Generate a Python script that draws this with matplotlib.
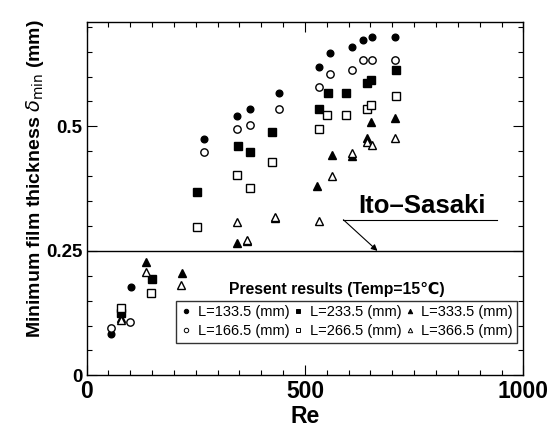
import matplotlib
matplotlib.use("Agg")
import matplotlib.pyplot as plt
from matplotlib.lines import Line2D
from matplotlib.ticker import MultipleLocator

plt.rcParams['font.family'] = ['Liberation Sans', 'DejaVu Sans']
plt.rcParams['mathtext.fontset'] = 'dejavusans'

# Re and minimum film thickness (mm) for each tube length
re_133 = [55, 101, 268, 344, 374, 441, 531, 558, 607, 633, 654, 706]
d_133 = [0.083, 0.177, 0.475, 0.520, 0.534, 0.567, 0.620, 0.647, 0.659, 0.673, 0.679, 0.679]

re_166 = [55, 100, 268, 344, 374, 441, 531, 558, 607, 633, 654, 706]
d_166 = [0.096, 0.108, 0.448, 0.495, 0.502, 0.534, 0.580, 0.606, 0.614, 0.633, 0.633, 0.633]

re_233 = [79, 150, 253, 346, 374, 424, 532, 553, 595, 641, 652, 708]
d_233 = [0.126, 0.194, 0.369, 0.461, 0.448, 0.488, 0.534, 0.567, 0.567, 0.587, 0.594, 0.614]

re_266 = [79, 147, 253, 345, 374, 424, 532, 551, 594, 641, 651, 708]
d_266 = [0.136, 0.166, 0.297, 0.403, 0.376, 0.429, 0.495, 0.522, 0.522, 0.535, 0.542, 0.561]

re_333 = [79, 135, 218, 345, 367, 431, 528, 563, 608, 641, 651, 705]
d_333 = [0.115, 0.227, 0.205, 0.266, 0.269, 0.316, 0.380, 0.443, 0.440, 0.477, 0.508, 0.516]

re_366 = [79, 135, 216, 344, 367, 431, 531, 563, 608, 643, 653, 705]
d_366 = [0.111, 0.207, 0.181, 0.309, 0.272, 0.319, 0.311, 0.400, 0.447, 0.469, 0.462, 0.476]

ito_sasaki = 0.25

series = [
    (re_133, d_133, 'o', 'k', 4.8, 'L=133.5 (mm)'),
    (re_166, d_166, 'o', 'w', 5.3, 'L=166.5 (mm)'),
    (re_233, d_233, 's', 'k', 5.3, 'L=233.5 (mm)'),
    (re_266, d_266, 's', 'w', 5.3, 'L=266.5 (mm)'),
    (re_333, d_333, '^', 'k', 5.5, 'L=333.5 (mm)'),
    (re_366, d_366, '^', 'w', 6.0, 'L=366.5 (mm)'),
]

fig = plt.figure(figsize=(5.55, 4.36), dpi=100)
ax = fig.add_axes([0.156, 0.139, 0.787, 0.811])

handles = []
for x, y, m, fc, ms, lab in series:
    ax.plot(x, y, linestyle='none', marker=m, markersize=ms,
            markerfacecolor=fc, markeredgecolor='k', markeredgewidth=1.0)
    handles.append(Line2D([], [], linestyle='none', marker=m, markersize=3.2,
                          markerfacecolor=fc, markeredgecolor='k',
                          markeredgewidth=0.7, label=lab))

ax.axhline(ito_sasaki, color='k', linewidth=1.0)

# Ito-Sasaki annotation with underline and pointer
ax.text(621, 0.327, 'Ito\u2013Sasaki', fontsize=18.5, fontweight='bold', ha='left', va='baseline')
ax.plot([588, 939], [0.3125, 0.3125], color='k', linewidth=0.8)
ax.annotate('', xy=(666, ito_sasaki), xytext=(588, 0.3125),
            arrowprops=dict(arrowstyle='-|>', color='k', lw=0.8,
                            mutation_scale=9, shrinkA=0, shrinkB=0))

ax.set_xlim(0, 1000)
ax.set_ylim(0, 0.71)
ax.set_xticks([0, 500, 1000])
ax.set_yticks([0, 0.25, 0.5])
ax.set_xticklabels(['0', '500', '1000'])
ax.set_yticklabels(['0', '0.25', '0.5'])
ax.xaxis.set_minor_locator(MultipleLocator(50))
ax.yaxis.set_minor_locator(MultipleLocator(0.05))
ax.tick_params(which='both', direction='in', top=True, right=True, width=0.8)
ax.tick_params(which='major', length=7)
ax.tick_params(which='minor', length=3.5)
ax.tick_params(axis='x', which='major', labelsize=16.5, pad=3)
ax.tick_params(axis='y', which='major', labelsize=13.5, pad=3)
for lbl in ax.get_xticklabels() + ax.get_yticklabels():
    lbl.set_fontweight('bold')
for s in ax.spines.values():
    s.set_linewidth(1.0)

ax.set_xlabel('Re', fontsize=16.5, fontweight='bold', labelpad=2)
ax.set_ylabel('Minimum film thickness $\\delta_{\\rm min}$ (mm)', fontsize=14, fontweight='bold')
ax.yaxis.set_label_coords(-0.093, 0.557)

ax.text(0.573, 0.244, 'Present results (Temp=15\u2103)', transform=ax.transAxes,
        fontsize=11.3, fontweight='bold', ha='center', va='center')
leg = ax.legend(handles=handles, ncol=3, loc='lower left',
                bbox_to_anchor=(0.205, 0.093, 0.781, 0.117), mode='expand',
                fontsize=10.5, frameon=True, fancybox=False, borderpad=0.3,
                handlelength=0.8, handletextpad=0.4, columnspacing=0.8,
                labelspacing=0.35, borderaxespad=0)
leg.get_frame().set_edgecolor('k')
leg.get_frame().set_linewidth(1.0)

fig.savefig('out.png', dpi=100)
